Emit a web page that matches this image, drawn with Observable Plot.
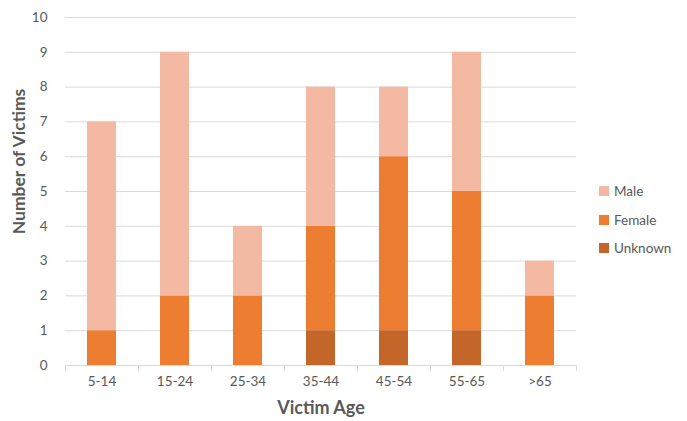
<!DOCTYPE html>
<html>
<head>
<meta charset="utf-8">
<script src="https://cdn.jsdelivr.net/npm/d3@7"></script>
<script src="https://cdn.jsdelivr.net/npm/@observablehq/plot@0.6"></script>
<style>
  html, body { margin: 0; padding: 0; background: #fff; }
  #wrap { position: relative; width: 687px; height: 421px; font-family: Lato, "Open Sans", sans-serif; }
  #legend { position: absolute; left: 599px; top: 177px; font-size: 13.5px; color: #595959; }
  #legend .row { display: flex; align-items: center; height: 28.5px; }
  #legend .sw { width: 10px; height: 10px; margin-right: 5px; }
</style>
</head>
<body>
<div id="wrap"></div>
<script>
const ageGroups = ["5-14", "15-24", "25-34", "35-44", "45-54", "55-65", ">65"];
const seriesNames = ["Unknown", "Female", "Male"];
const unknownCounts = [0, 0, 0, 1, 1, 1, 0];
const femaleCounts = [1, 2, 2, 3, 5, 4, 2];
const maleCounts = [6, 7, 2, 4, 2, 4, 1];
const yTicks = [0, 1, 2, 3, 4, 5, 6, 7, 8, 9, 10];
const colors = { Male: "#F4B9A3", Female: "#ED7D31", Unknown: "#C4652A" };

const rows = [];
ageGroups.forEach((g, i) => {
  rows.push({ age: g, sex: "Unknown", n: unknownCounts[i] });
  rows.push({ age: g, sex: "Female", n: femaleCounts[i] });
  rows.push({ age: g, sex: "Male", n: maleCounts[i] });
});

const W = 687, H = 421;
const mL = 65, mR = 111, mT = 17, mB = 56;
const step = (W - mL - mR) / ageGroups.length;

const chart = Plot.plot({
  width: W, height: H,
  marginLeft: mL, marginRight: mR, marginTop: mT, marginBottom: mB,
  style: { fontFamily: "Lato, 'Open Sans', sans-serif", fontSize: "13px", color: "#595959", background: "#fff" },
  x: { type: "band", domain: ageGroups, paddingInner: 0.6, paddingOuter: 0.3, label: null },
  y: { type: "linear", domain: [0, 10], label: null },
  color: { domain: seriesNames, range: seriesNames.map(s => colors[s]) },
  marks: [
    Plot.ruleY(yTicks, { y: d => d, stroke: "#d9d9d9", strokeWidth: 1 }),
    Plot.barY(rows, Plot.stackY({ order: seriesNames }, { x: "age", y: "n", fill: "sex" })),
    Plot.ruleY([0], { y: d => d, stroke: "#d9d9d9", strokeWidth: 1 }),
    Plot.ruleX(ageGroups, { x: d => d, y1: 0, y2: 0, dx: -step / 2, stroke: "#d9d9d9", insetBottom: -6 }),
    Plot.ruleX([ageGroups[ageGroups.length - 1]], { x: d => d, y1: 0, y2: 0, dx: step / 2, stroke: "#d9d9d9", insetBottom: -6 }),
    Plot.axisY(yTicks, { tickSize: 0, tickPadding: 18, fontSize: 13.5, fill: "#595959", label: null }),
    Plot.axisX(ageGroups, { tickSize: 0, tickPadding: 11, fontSize: 13.5, fill: "#595959", label: null }),
    Plot.text(["Victim Age"], { frameAnchor: "bottom", dy: 48, fontSize: 18, fontWeight: "bold", fill: "#595959" }),
    Plot.text(["Number of Victims"], { frameAnchor: "left", dx: -46, dy: -30, rotate: -90, textAnchor: "middle", fontSize: 17.5, fontWeight: "bold", fill: "#595959" })
  ]
});

const wrap = document.getElementById("wrap");
wrap.appendChild(chart);

const legend = document.createElement("div");
legend.id = "legend";
["Male", "Female", "Unknown"].forEach(s => {
  const r = document.createElement("div");
  r.className = "row";
  const sw = document.createElement("div");
  sw.className = "sw";
  sw.style.background = colors[s];
  const t = document.createElement("span");
  t.textContent = s;
  r.appendChild(sw);
  r.appendChild(t);
  legend.appendChild(r);
});
wrap.appendChild(legend);
</script>
</body>
</html>
